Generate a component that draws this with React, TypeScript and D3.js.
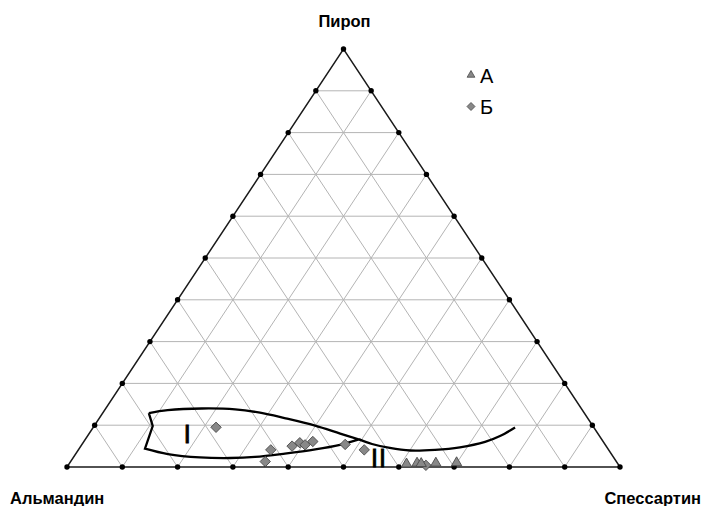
import React from "react";
import * as d3 from "d3";

// Garnet end-member compositions, mol % (almandine + pyrope + spessartine = 100)
const groupA = [
  { alm: 38.3, pyr: 0.6, sps: 61.1 },
  { alm: 36.3, pyr: 0.8, sps: 62.9 },
  { alm: 35.6, pyr: 0.7, sps: 63.7 },
  { alm: 32.9, pyr: 0.8, sps: 66.3 },
  { alm: 29.1, pyr: 0.9, sps: 70.0 },
];

const groupB = [
  { alm: 68.3, pyr: 9.5, sps: 22.2 },
  { alm: 61.1, pyr: 4.1, sps: 34.8 },
  { alm: 63.5, pyr: 1.3, sps: 35.2 },
  { alm: 56.8, pyr: 5.0, sps: 38.2 },
  { alm: 55.0, pyr: 5.8, sps: 39.2 },
  { alm: 54.3, pyr: 5.3, sps: 40.4 },
  { alm: 52.5, pyr: 6.1, sps: 41.4 },
  { alm: 47.0, pyr: 5.4, sps: 47.6 },
  { alm: 44.2, pyr: 4.1, sps: 51.7 },
  { alm: 34.9, pyr: 0.4, sps: 64.7 },
];

// Field I outline as [spessartine, pyrope] pairs
const fieldITop: [number, number][] = [
  [8.35, 12.9], [11.4, 13.6], [17.4, 14.0], [23.5, 13.8], [28.4, 13.0],
  [33.5, 11.7], [39.9, 9.9], [45.4, 8.0], [49.5, 6.6],
];
const fieldIBottom: [number, number][] = [
  [49.5, 6.6], [46.7, 5.3], [42.8, 4.2], [37.8, 3.2], [32.8, 2.4],
  [28.4, 2.15], [22.9, 2.3], [16.7, 3.1], [11.9, 4.4],
];
const fieldINotch: [number, number][] = [
  [11.9, 4.4], [10.6, 9.8], [8.35, 12.9],
];
// Field II boundary
const fieldII: [number, number][] = [
  [49.5, 6.6], [52.4, 5.5], [56.1, 4.55], [60.1, 3.95], [64.5, 4.1],
  [68.7, 4.7], [72.6, 6.0], [74.6, 7.4], [76.3, 9.45],
];

const gridSteps = [10, 20, 30, 40, 50, 60, 70, 80, 90];
const tickSteps = [0, 10, 20, 30, 40, 50, 60, 70, 80, 90, 100];

const cornerLabels = { top: "Пироп", left: "Альмандин", right: "Спессартин" };
const legendItems = [
  { label: "А", shape: "triangle" },
  { label: "Б", shape: "diamond" },
];
const fieldLabels = [
  { text: "I", sps: 18.9, pyr: 5.85 },
  { text: "II", sps: 56.4, pyr: 0.0 },
];

const W = 703;
const H = 506;

// Horizontal position from (spessartine + pyrope/2), vertical from pyrope
const xScale = d3.scaleLinear().domain([0, 100]).range([67, 620]);
const yScale = d3.scaleLinear().domain([0, 100]).range([467, 49]);

const proj = (sps: number, pyr: number): [number, number] => [
  xScale(sps + pyr / 2),
  yScale(pyr),
];

const smooth = d3
  .line<[number, number]>()
  .x((d) => proj(d[0], d[1])[0])
  .y((d) => proj(d[0], d[1])[1])
  .curve(d3.curveCatmullRom.alpha(0.5));
const straight = d3
  .line<[number, number]>()
  .x((d) => proj(d[0], d[1])[0])
  .y((d) => proj(d[0], d[1])[1]);

const FONT = "'Liberation Sans', Arial, sans-serif";
const MARK_FILL = "#888888";
const MARK_STROKE = "#484848";

const tri = d3.symbol().type(d3.symbolTriangle);
const diamondPath = (r: number) => `M0,${-r}L${r},0L0,${r}L${-r},0Z`;

export default function App() {
  // grid lines: constant pyrope, constant spessartine, constant almandine
  const grid: { x1: number; y1: number; x2: number; y2: number }[] = [];
  gridSteps.forEach((v) => {
    const [a1, b1] = proj(0, v);
    const [a2, b2] = proj(100 - v, v);
    grid.push({ x1: a1, y1: b1, x2: a2, y2: b2 });
    const [c1, d1] = proj(v, 0);
    const [c2, d2] = proj(v, 100 - v);
    grid.push({ x1: c1, y1: d1, x2: c2, y2: d2 });
    const [e1, f1] = proj(100 - v, 0);
    const [e2, f2] = proj(0, 100 - v);
    grid.push({ x1: e1, y1: f1, x2: e2, y2: f2 });
  });

  const ticks: [number, number][] = [];
  tickSteps.forEach((v) => {
    ticks.push(proj(v, 0));
    if (v > 0 && v < 100) {
      ticks.push(proj(0, v));
      ticks.push(proj(100 - v, v));
    }
  });
  ticks.push(proj(0, 100));

  const pL = proj(0, 0);
  const pR = proj(100, 0);
  const pT = proj(0, 100);

  const fieldIPath =
    (smooth(fieldITop) || "") +
    (smooth(fieldIBottom) || "").replace(/^M/, "L") +
    (straight(fieldINotch) || "").replace(/^M/, "L");

  const dropped = groupB[2];
  const [dx, dy] = proj(dropped.sps, dropped.pyr);

  return (
    <svg
      width={W}
      height={H}
      style={{ position: "absolute", left: 0, top: 0, background: "#fff" }}
    >
      <g>
        {grid.map((g, i) => (
          <line
            key={i}
            x1={g.x1}
            y1={g.y1}
            x2={g.x2}
            y2={g.y2}
            stroke="#b4b4b4"
            strokeWidth={1}
          />
        ))}
      </g>
      <path
        d={`M${pL[0]},${pL[1]}L${pR[0]},${pR[1]}L${pT[0]},${pT[1]}Z`}
        fill="none"
        stroke="#1a1a1a"
        strokeWidth={1.5}
      />
      {ticks.map((t, i) => (
        <circle key={i} cx={t[0]} cy={t[1]} r={2.7} fill="#000" />
      ))}

      {/* compositional fields */}
      <path d={fieldIPath} fill="none" stroke="#000" strokeWidth={2.3} strokeLinejoin="miter" />
      <path d={smooth(fieldII) || ""} fill="none" stroke="#000" strokeWidth={2.3} />
      {fieldLabels.map((f, i) => {
        const [x, y] = proj(f.sps, f.pyr);
        return (
          <text
            key={i}
            x={x}
            y={y}
            textAnchor="middle"
            fontFamily={FONT}
            fontSize={25}
            letterSpacing={1}
            fill="#000"
            stroke="#000"
            strokeWidth={0.9}
          >
            {f.text}
          </text>
        );
      })}

      {/* analyses */}
      <line x1={dx} y1={dy - 5} x2={dx} y2={yScale(0)} stroke="#000" strokeWidth={1.6} />
      {groupB.map((d, i) => {
        const [x, y] = proj(d.sps, d.pyr);
        return (
          <path
            key={"b" + i}
            d={diamondPath(5.2)}
            transform={`translate(${x},${y})`}
            fill={MARK_FILL}
            stroke={MARK_STROKE}
            strokeWidth={0.9}
          />
        );
      })}
      {groupA.map((d, i) => {
        const [x, y] = proj(d.sps, d.pyr);
        return (
          <path
            key={"a" + i}
            d={tri.size(46)() || ""}
            transform={`translate(${x},${y - 0.5})`}
            fill={MARK_FILL}
            stroke={MARK_STROKE}
            strokeWidth={0.9}
          />
        );
      })}

      {/* legend */}
      {legendItems.map((l, i) => {
        const y = 75 + i * 31.5;
        return (
          <g key={l.label}>
            {l.shape === "triangle" ? (
              <path
                d={tri.size(26)() || ""}
                transform={`translate(471,${y})`}
                fill={MARK_FILL}
                stroke={MARK_STROKE}
                strokeWidth={0.8}
              />
            ) : (
              <path
                d={diamondPath(4)}
                transform={`translate(471,${y})`}
                fill={MARK_FILL}
                stroke={MARK_STROKE}
                strokeWidth={0.8}
              />
            )}
            <text x={480} y={y + 7.5} fontFamily={FONT} fontSize={20} fill="#000">
              {l.label}
            </text>
          </g>
        );
      })}

      {/* corner labels */}
      <text x={344.5} y={27} textAnchor="middle" fontFamily={FONT} fontWeight="bold" fontSize={16.5} fill="#000">
        {cornerLabels.top}
      </text>
      <text x={10} y={504} fontFamily={FONT} fontWeight="bold" fontSize={16.5} fill="#000">
        {cornerLabels.left}
      </text>
      <text x={701} y={504} textAnchor="end" fontFamily={FONT} fontWeight="bold" fontSize={16.5} fill="#000">
        {cornerLabels.right}
      </text>
    </svg>
  );
}
